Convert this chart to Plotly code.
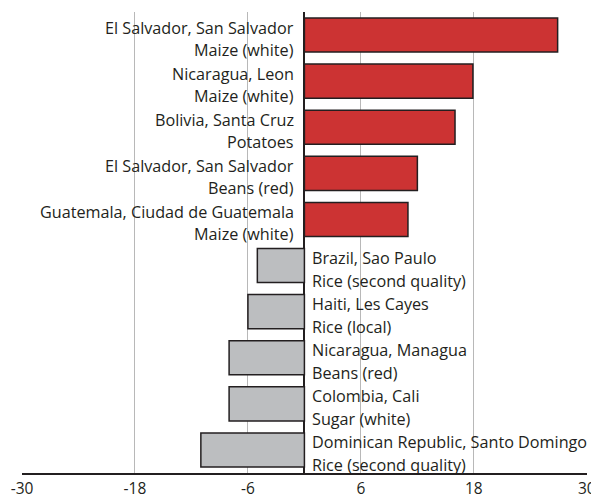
import plotly.graph_objects as go

# Market / commodity pairs and their price changes (%)
locations = [
    "El Salvador, San Salvador",
    "Nicaragua, Leon",
    "Bolivia, Santa Cruz",
    "El Salvador, San Salvador",
    "Guatemala, Ciudad de Guatemala",
    "Brazil, Sao Paulo",
    "Haiti, Les Cayes",
    "Nicaragua, Managua",
    "Colombia, Cali",
    "Dominican Republic, Santo Domingo",
]
commodities = [
    "Maize (white)",
    "Maize (white)",
    "Potatoes",
    "Beans (red)",
    "Maize (white)",
    "Rice (second quality)",
    "Rice (local)",
    "Beans (red)",
    "Sugar (white)",
    "Rice (second quality)",
]
changes = [26.9, 17.9, 16.0, 12.0, 11.0, -5.0, -6.0, -8.0, -8.0, -11.0]
tick_values = [-30, -18, -6, 6, 18, 30]

RED = "#cc3333"
GREY = "#bcbec0"
INK = "#231f20"
FONT = "Open Sans"

positions = list(range(len(changes)))
colors = [RED if v > 0 else GREY for v in changes]

fig = go.Figure(
    go.Bar(
        x=changes,
        y=positions,
        orientation="h",
        marker=dict(color=colors, line=dict(color=INK, width=1.5)),
        width=0.74,
        hoverinfo="skip",
    )
)

# Two-line labels on the opposite side of the zero line from each bar
annotations = []
for pos, loc, com, val in zip(positions, locations, commodities, changes):
    side = "right" if val > 0 else "left"
    shift = -8 if val > 0 else 6
    for text, dy in ((loc, 7.5), (com, -15)):
        annotations.append(
            dict(
                x=0, y=pos, xref="x", yref="y",
                text=text, showarrow=False,
                xanchor=side, yanchor="middle", align=side,
                xshift=shift, yshift=dy,
                font=dict(family=FONT, size=16.2, color=INK),
            )
        )

fig.update_layout(
    width=591,
    height=497,
    margin=dict(l=22, r=4, t=12, b=24, autoexpand=False),
    paper_bgcolor="white",
    plot_bgcolor="white",
    showlegend=False,
    annotations=annotations,
    xaxis=dict(
        range=[-30, 30.02],
        tickvals=tick_values,
        ticktext=[str(t) for t in tick_values],
        showgrid=True,
        gridcolor="#b8b8b8",
        gridwidth=1,
        zeroline=True,
        zerolinecolor=INK,
        zerolinewidth=2,
        showline=True,
        linecolor=INK,
        linewidth=2,
        ticks="",
        automargin=False,
        ticklabeloverflow="allow",
        ticklabelstandoff=0,
        tickfont=dict(family=FONT, size=15.5, color=INK),
        fixedrange=True,
    ),
    yaxis=dict(
        range=[9.5, -0.5],
        showticklabels=False,
        showgrid=False,
        zeroline=False,
        showline=False,
        automargin=False,
        fixedrange=True,
    ),
)

fig.write_html("out.html")
